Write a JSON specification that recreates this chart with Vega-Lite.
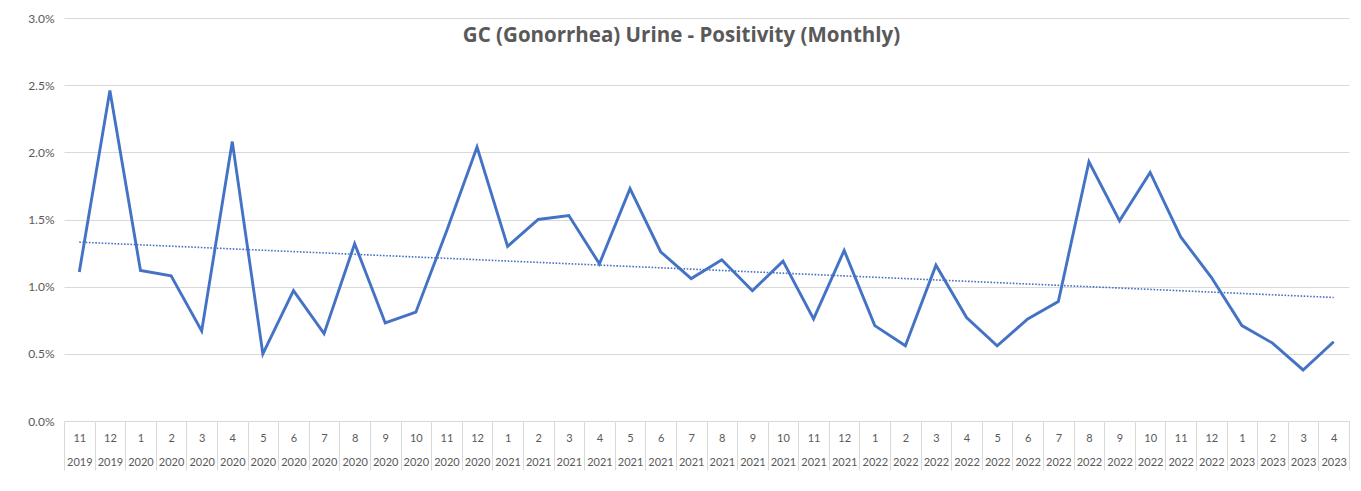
{
  "$schema": "https://vega.github.io/schema/vega-lite/v6.json",
  "width": 1285,
  "height": 403,
  "autosize": {"type": "none"},
  "padding": {"left": 64, "top": 18, "right": 12, "bottom": 70},
  "background": "white",
  "config": {"view": {"stroke": null}, "font": "Lato"},
  "title": {
    "text": "GC (Gonorrhea) Urine - Positivity (Monthly)",
    "fontSize": 20.5,
    "fontWeight": "bold",
    "color": "#595959",
    "font": "Open Sans",
    "anchor": "middle",
    "frame": "group",
    "offset": -34,
    "dx": -25
  },
  "data": {
    "values": [
      {"i": 1, "v": 0.0111}, {"i": 2, "v": 0.0246}, {"i": 3, "v": 0.0112}, {"i": 4, "v": 0.0108},
      {"i": 5, "v": 0.0067}, {"i": 6, "v": 0.0208}, {"i": 7, "v": 0.0050}, {"i": 8, "v": 0.0097},
      {"i": 9, "v": 0.0065}, {"i": 10, "v": 0.0132}, {"i": 11, "v": 0.0073}, {"i": 12, "v": 0.0081},
      {"i": 13, "v": 0.0141}, {"i": 14, "v": 0.0204}, {"i": 15, "v": 0.0130}, {"i": 16, "v": 0.0150},
      {"i": 17, "v": 0.0153}, {"i": 18, "v": 0.0117}, {"i": 19, "v": 0.0173}, {"i": 20, "v": 0.0126},
      {"i": 21, "v": 0.0106}, {"i": 22, "v": 0.0120}, {"i": 23, "v": 0.0097}, {"i": 24, "v": 0.0119},
      {"i": 25, "v": 0.0076}, {"i": 26, "v": 0.0127}, {"i": 27, "v": 0.0071}, {"i": 28, "v": 0.0056},
      {"i": 29, "v": 0.0116}, {"i": 30, "v": 0.0077}, {"i": 31, "v": 0.0056}, {"i": 32, "v": 0.0076},
      {"i": 33, "v": 0.0089}, {"i": 34, "v": 0.0193}, {"i": 35, "v": 0.0149}, {"i": 36, "v": 0.0185},
      {"i": 37, "v": 0.0137}, {"i": 38, "v": 0.0107}, {"i": 39, "v": 0.0071}, {"i": 40, "v": 0.0058},
      {"i": 41, "v": 0.0038}, {"i": 42, "v": 0.0059}
    ]
  },
  "encoding": {
    "x": {
      "field": "i",
      "type": "ordinal",
      "sort": "ascending",
      "scale": {"type": "band", "paddingInner": 0, "paddingOuter": 0},
      "axis": {
        "title": null,
        "labelAngle": 0,
        "labelExpr": "isValid(datum.value) && datum.value >= 1 ? [toString((datum.value + 9) % 12 + 1), toString(2019 + floor((datum.value + 9) / 12))] : ''",
        "labelLineHeight": 24,
        "labelFontSize": 11,
        "labelColor": "#595959",
        "labelFont": "Lato",
        "labelOverlap": false,
        "labelPadding": -38,
        "tickBand": "extent",
        "tickSize": 49,
        "tickColor": "#d9d9d9",
        "domainColor": "#d9d9d9",
        "grid": false
      }
    }
  },
  "layer": [
    {
      "mark": {"type": "line", "color": "#4472C4", "strokeWidth": 2.9, "strokeJoin": "miter"},
      "encoding": {
        "y": {
          "field": "v",
          "type": "quantitative",
          "scale": {"domain": [0, 0.03], "nice": false},
          "axis": {
            "title": null,
            "values": [0, 0.005, 0.01, 0.015, 0.02, 0.025, 0.03],
            "format": ".1%",
            "domain": false,
            "ticks": false,
            "labelPadding": 10,
            "labelFontSize": 12,
            "labelColor": "#595959",
            "labelFont": "Lato",
            "gridColor": "#d9d9d9",
            "gridWidth": 1
          }
        }
      }
    },
    {
      "transform": [{"regression": "v", "on": "i"}],
      "mark": {"type": "line", "color": "#4472C4", "strokeWidth": 1.6, "strokeDash": [1.6, 1.6]},
      "encoding": {
        "y": {"field": "v", "type": "quantitative"}
      }
    }
  ]
}
